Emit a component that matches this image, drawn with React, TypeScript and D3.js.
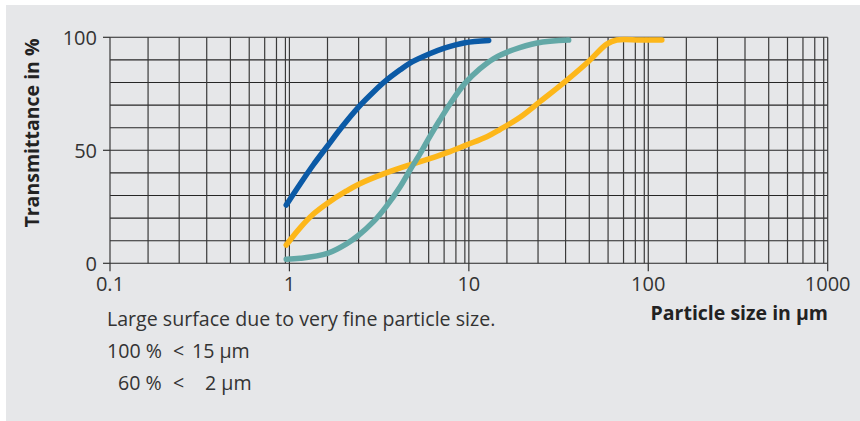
import React from "react";
import * as d3 from "d3";

const W = 860;
const H = 421;

// Axis ticks
const X_TICKS = [0.1, 1, 10, 100, 1000];
const X_TICK_LABELS = ["0.1", "1", "10", "100", "1000"];
const Y_TICKS = [0, 50, 100];
const Y_GRID = [0, 10, 20, 30, 40, 50, 60, 70, 80, 90, 100];
const DECADES = [0.1, 1, 10, 100];
const GRID_MULTIPLIERS = [1, 1.63, 2.43, 3.46, 4.69, 5.97, 7.28, 8.47, 9.5];

// Series (particle size in µm, transmittance in %)
const BLUE_SIZE = [0.96, 1.15, 1.36, 1.63, 1.96, 2.42, 2.94, 3.46, 4.14, 4.7, 6.0, 7.3, 9.5, 12.9];
const BLUE_PCT = [25.8, 35.2, 43.6, 51.9, 60.3, 69.0, 75.8, 80.9, 85.6, 88.6, 92.6, 95.2, 97.6, 98.6];

const TEAL_SIZE = [0.96, 1.15, 1.63, 2.08, 2.42, 2.94, 3.46, 4.14, 4.7, 5.35, 6.0, 6.9, 7.85, 9.5, 11.5, 13.7, 17.7, 24, 36];
const TEAL_PCT = [1.8, 2.2, 4.4, 8.6, 12.3, 18.4, 25.1, 33.9, 41.3, 48.5, 55.5, 63.5, 70.5, 79.6, 86.0, 90.5, 94.5, 97.5, 98.8];

const YELLOW_SIZE = [0.96, 1.15, 1.36, 1.63, 2.08, 2.42, 3.46, 4.7, 6.0, 7.85, 9.73, 12.6, 14.9, 19.3, 24.9, 34.4, 46.3, 58.7, 66.7, 89.9, 119];
const YELLOW_PCT = [8.1, 15.8, 21.8, 26.6, 32.0, 34.9, 40.0, 43.6, 46.2, 49.4, 52.4, 56.0, 59.2, 64.6, 71.5, 80.4, 89.2, 97.0, 98.8, 98.8, 98.8];

const SERIES = [
  { name: "blue", sizes: BLUE_SIZE, values: BLUE_PCT, color: "#0b5aa6" },
  { name: "yellow", sizes: YELLOW_SIZE, values: YELLOW_PCT, color: "#fdb71a" },
  { name: "teal", sizes: TEAL_SIZE, values: TEAL_PCT, color: "#63a8a7" },
];

const Y_TITLE = "Transmittance in %";
const X_TITLE = "Particle size in µm";
const NOTE_1 = "Large surface due to very fine particle size.";
const NOTE_2A = "100 %";
const NOTE_2B = "<";
const NOTE_2C = "15 µm";
const NOTE_3A = "60 %";
const NOTE_3B = "<";
const NOTE_3C = "2 µm";

const FONT = "'Open Sans', 'Noto Sans', sans-serif";
const TEXT = "#333333";

export default function App() {
  const x = d3.scaleLog().domain([0.1, 1000]).range([110, 827.7]);
  const y = d3.scaleLinear().domain([0, 100]).range([263.3, 37.3]);

  const vGrid: number[] = [];
  DECADES.forEach((d) => GRID_MULTIPLIERS.forEach((m) => vGrid.push(d * m)));
  vGrid.push(1000);

  const line = d3
    .line<[number, number]>()
    .x((d) => x(d[0]))
    .y((d) => y(d[1]))
    .curve(d3.curveCatmullRom.alpha(0.5));

  const [x0, x1] = x.range();
  const [y0, y1] = y.range();

  return (
    <svg
      width={W}
      height={H}
      style={{ position: "absolute", left: 0, top: 0 }}
      fontFamily={FONT}
    >
      <rect x={6} y={5} width={W - 6} height={H - 5} fill="#e6e7e9" />

      {/* horizontal grid */}
      {Y_GRID.map((v) => (
        <line key={"h" + v} x1={x0} x2={x1} y1={y(v)} y2={y(v)} stroke="#262626" strokeWidth={1.1} />
      ))}
      {/* vertical grid */}
      {vGrid.map((v, i) => (
        <line key={"v" + i} x1={x(v)} x2={x(v)} y1={y1} y2={y0} stroke="#3a3a3a" strokeWidth={1.2} />
      ))}

      {/* y ticks */}
      {Y_TICKS.map((t) => (
        <g key={"yt" + t}>
          <line x1={x0 - 7} x2={x0} y1={y(t)} y2={y(t)} stroke="#333" strokeWidth={1.2} />
          <text x={x0 - 13} y={y(t)} dy="0.36em" textAnchor="end" fontSize={20} fill={TEXT}>
            {t}
          </text>
        </g>
      ))}
      {/* x ticks */}
      {X_TICKS.map((t, i) => (
        <g key={"xt" + t}>
          <line x1={x(t)} x2={x(t)} y1={y0} y2={y0 + 8} stroke="#333" strokeWidth={1.2} />
          <text x={x(t)} y={290.5} textAnchor="middle" fontSize={20} fill={TEXT}>
            {X_TICK_LABELS[i]}
          </text>
        </g>
      ))}

      {/* curves */}
      {SERIES.map((s) => (
        <path
          key={s.name}
          d={line(s.sizes.map((v, i) => [v, s.values[i]] as [number, number])) || ""}
          fill="none"
          stroke={s.color}
          strokeWidth={5.5}
          strokeLinecap="round"
          strokeLinejoin="round"
        />
      ))}

      {/* titles */}
      <text
        transform={`translate(38.5, 133) rotate(-90)`}
        textAnchor="middle"
        fontSize={19.5}
        fontWeight="bold"
        fill="#222"
      >
        {Y_TITLE}
      </text>
      <text x={828} y={320} textAnchor="end" fontSize={19.5} fontWeight="bold" fill="#222">
        {X_TITLE}
      </text>

      {/* notes */}
      <text x={107} y={326} fontSize={19.6} fill={TEXT}>
        {NOTE_1}
      </text>
      <text y={358.3} fontSize={19.6} fill={TEXT}>
        <tspan x={107}>{NOTE_2A}</tspan>
        <tspan x={173}>{NOTE_2B}</tspan>
        <tspan x={192}>{NOTE_2C}</tspan>
      </text>
      <text y={390} fontSize={19.6} fill={TEXT}>
        <tspan x={118}>{NOTE_3A}</tspan>
        <tspan x={173}>{NOTE_3B}</tspan>
        <tspan x={205}>{NOTE_3C}</tspan>
      </text>
    </svg>
  );
}
